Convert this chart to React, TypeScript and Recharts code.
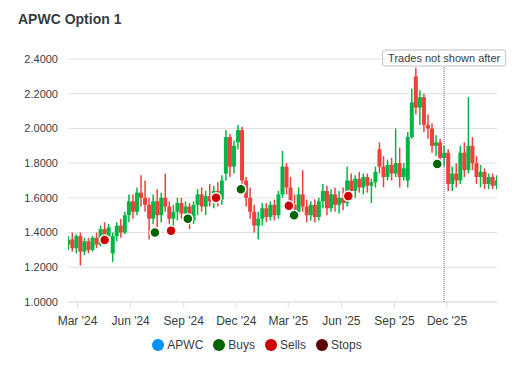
import React from "react";
import { ComposedChart, Bar, Scatter, XAxis, YAxis, CartesianGrid, ReferenceLine } from "recharts";

// weekly candles, first week starting here
const firstWeek = "2024-02-14";

const opens = [
  1.33, 1.36, 1.31, 1.38, 1.29, 1.35, 1.30, 1.37, 1.33, 1.42, 1.38, 1.28, 1.38, 1.44, 1.40, 1.50, 1.58, 1.52, 1.63, 1.60,
  1.56, 1.48, 1.58, 1.50, 1.60, 1.55, 1.48, 1.52, 1.57, 1.51, 1.55, 1.47, 1.56, 1.62, 1.55, 1.61, 1.58, 1.64, 1.59, 1.74,
  1.95, 1.78, 1.92, 1.99, 1.70, 1.60, 1.52, 1.44, 1.48, 1.54, 1.49, 1.56, 1.50, 1.62, 1.78, 1.66, 1.56, 1.52, 1.62, 1.55,
  1.50, 1.56, 1.49, 1.58, 1.64, 1.54, 1.62, 1.56, 1.60, 1.57, 1.70, 1.64, 1.71, 1.66, 1.72, 1.67, 1.69, 1.88, 1.78, 1.72,
  1.79, 1.74, 1.80, 1.72, 1.70, 1.95, 2.30, 2.12, 2.18, 2.02, 2.00, 1.90, 1.92, 1.83, 1.86, 1.68, 1.74, 1.70, 1.86, 1.76,
  1.90, 1.80, 1.72, 1.75, 1.68, 1.72, 1.67,
];
const highs = [
  1.38, 1.40, 1.39, 1.40, 1.37, 1.37, 1.38, 1.40, 1.44, 1.46, 1.45, 1.40, 1.46, 1.48, 1.52, 1.62, 1.62, 1.66, 1.73, 1.70,
  1.60, 1.62, 1.65, 1.63, 1.74, 1.58, 1.56, 1.60, 1.60, 1.58, 1.57, 1.58, 1.65, 1.66, 1.64, 1.68, 1.67, 1.69, 1.73, 1.99,
  1.97, 1.93, 2.02, 2.01, 1.72, 1.66, 1.56, 1.52, 1.57, 1.57, 1.58, 1.59, 1.64, 1.87, 1.80, 1.72, 1.62, 1.66, 1.76, 1.59,
  1.58, 1.59, 1.60, 1.68, 1.67, 1.65, 1.66, 1.64, 1.66, 1.78, 1.74, 1.73, 1.75, 1.74, 1.74, 1.71, 1.78, 1.92, 1.84, 1.82,
  1.83, 2.00, 1.89, 1.80, 1.98, 2.23, 2.35, 2.22, 2.20, 2.08, 2.03, 1.96, 1.94, 1.90, 1.88, 1.78, 1.80, 1.90, 1.92, 2.18,
  1.95, 1.84, 1.79, 1.77, 1.74, 1.74, 1.73,
];
const lows = [
  1.30, 1.29, 1.28, 1.21, 1.27, 1.28, 1.29, 1.31, 1.32, 1.35, 1.34, 1.23, 1.35, 1.37, 1.39, 1.46, 1.48, 1.50, 1.55, 1.52,
  1.36, 1.45, 1.43, 1.46, 1.52, 1.45, 1.43, 1.47, 1.48, 1.46, 1.42, 1.45, 1.50, 1.52, 1.50, 1.55, 1.54, 1.55, 1.56, 1.70,
  1.72, 1.74, 1.88, 1.65, 1.55, 1.48, 1.40, 1.36, 1.44, 1.46, 1.47, 1.47, 1.48, 1.60, 1.62, 1.52, 1.48, 1.50, 1.52, 1.46,
  1.47, 1.46, 1.47, 1.54, 1.50, 1.52, 1.52, 1.51, 1.53, 1.55, 1.60, 1.60, 1.63, 1.62, 1.63, 1.57, 1.66, 1.74, 1.66, 1.70,
  1.70, 1.72, 1.66, 1.70, 1.66, 1.94, 2.08, 2.02, 1.98, 1.94, 1.86, 1.84, 1.79, 1.78, 1.64, 1.64, 1.66, 1.68, 1.72, 1.74,
  1.76, 1.68, 1.66, 1.65, 1.65, 1.65, 1.65,
];
const closes = [
  1.36, 1.31, 1.38, 1.29, 1.35, 1.30, 1.37, 1.33, 1.42, 1.38, 1.43, 1.38, 1.44, 1.40, 1.50, 1.58, 1.52, 1.63, 1.60, 1.56,
  1.48, 1.58, 1.50, 1.60, 1.55, 1.48, 1.52, 1.57, 1.51, 1.55, 1.47, 1.56, 1.62, 1.55, 1.61, 1.58, 1.64, 1.59, 1.70, 1.95,
  1.78, 1.90, 1.99, 1.70, 1.60, 1.52, 1.44, 1.48, 1.54, 1.49, 1.56, 1.50, 1.62, 1.78, 1.66, 1.56, 1.52, 1.62, 1.55, 1.50,
  1.56, 1.49, 1.58, 1.64, 1.54, 1.62, 1.56, 1.60, 1.57, 1.70, 1.64, 1.71, 1.66, 1.72, 1.67, 1.69, 1.75, 1.78, 1.72, 1.79,
  1.74, 1.80, 1.72, 1.77, 1.95, 2.15, 2.12, 2.18, 2.02, 2.00, 1.90, 1.92, 1.83, 1.86, 1.68, 1.74, 1.70, 1.86, 1.76, 1.90,
  1.80, 1.72, 1.75, 1.68, 1.72, 1.67, 1.70,
];

const buyDates = ["2024-07-13", "2024-09-08", "2024-12-09", "2025-03-11", "2025-11-14"];
const buyPrices = [1.40, 1.48, 1.65, 1.50, 1.795];
const sellDates = ["2024-04-17", "2024-08-10", "2024-10-27", "2025-03-02", "2025-06-13"];
const sellPrices = [1.357, 1.41, 1.60, 1.555, 1.61];

const cutoffDate = "2025-11-26";
const xTickDates = ["2024-03-01", "2024-06-01", "2024-09-01", "2024-12-01", "2025-03-01", "2025-06-01", "2025-09-01", "2025-12-01"];
const yTicks = [1.0, 1.2, 1.4, 1.6, 1.8, 2.0, 2.2, 2.4];

const UP = "#00B746";
const DOWN = "#EF403C";
const TEXT = "#373d3f";
const FONT = "'Liberation Sans', Arial, sans-serif";
const MONTHS = ["Jan", "Feb", "Mar", "Apr", "May", "Jun", "Jul", "Aug", "Sep", "Oct", "Nov", "Dec"];
const BODY_W = 4;

const DAY = 24 * 3600 * 1000;
const toT = (s: string) => Date.parse(s + "T00:00:00Z");

const candles = opens.map((open, i) => ({
  t: toT(firstWeek) + i * 7 * DAY,
  open,
  high: highs[i],
  low: lows[i],
  close: closes[i],
}));

const buys = buyDates.map((d, i) => ({ t: toT(d), price: buyPrices[i] }));
const sells = sellDates.map((d, i) => ({ t: toT(d), price: sellPrices[i] }));

const xDomain = [Date.UTC(2024, 1, 13, 12), Date.UTC(2026, 1, 25, 12)];

const formatMonth = (t: number) => {
  const d = new Date(t);
  return `${MONTHS[d.getUTCMonth()]} '${String(d.getUTCFullYear()).slice(2)}`;
};

// range bar [low, high] -> wick + body, body placed on the same pixel scale
const Candle = (props: any) => {
  const { x, y, width, height, payload } = props;
  if (!payload || x == null) return null;
  const { open, close, high, low } = payload;
  const top = Math.min(y, y + height);
  const h = Math.abs(height);
  const ratio = high - low > 0 ? h / (high - low) : 0;
  const bodyTop = top + (high - Math.max(open, close)) * ratio;
  const bodyH = Math.max(1, Math.abs(open - close) * ratio);
  const color = close >= open ? UP : DOWN;
  const cx = x + width / 2;
  return (
    <g>
      <line x1={cx} x2={cx} y1={top} y2={top + h} stroke={color} strokeWidth={1.5} />
      <rect x={cx - BODY_W / 2} y={bodyTop} width={BODY_W} height={bodyH} fill={color} />
    </g>
  );
};

const marker = (color: string) => (props: any) =>
  <circle cx={props.cx} cy={props.cy} r={5} fill={color} stroke="#fff" strokeWidth={1.5} />;

const CutoffLabel = (props: any) => {
  const vb = props.viewBox || {};
  const w = 123;
  return (
    <g>
      <rect x={vb.x - w / 2} y={vb.y - 9} width={w} height={16} rx={2} fill="#fff" stroke="#c2c2c2" />
      <text x={vb.x} y={vb.y + 3} textAnchor="middle" fontSize={11} fill={TEXT}>
        Trades not shown after
      </text>
    </g>
  );
};

const legendItems = [
  { name: "APWC", color: "#008FFB" },
  { name: "Buys", color: "#006400" },
  { name: "Sells", color: "#CC0000" },
  { name: "Stops", color: "#5C0000" },
];

export default function App() {
  return (
    <div style={{ position: "absolute", left: 0, top: 0, width: 530, height: 380, fontFamily: FONT, background: "#fff" }}>
      <div style={{ position: "absolute", left: 18, top: 11, fontSize: 14, fontWeight: "bold", color: TEXT }}>
        APWC Option 1
      </div>
      <ComposedChart
        width={530}
        height={380}
        data={candles}
        margin={{ top: 59, right: 33, bottom: 48, left: 0 }}
        style={{ fontFamily: FONT }}
      >
        <CartesianGrid vertical={false} stroke="#e0e0e0" />
        <XAxis
          dataKey="t"
          type="number"
          domain={xDomain}
          ticks={xTickDates.map(toT)}
          tickFormatter={formatMonth}
          height={30}
          tick={{ fill: TEXT, fontSize: 12 }}
          tickLine={{ stroke: "#e0e0e0" }}
          axisLine={{ stroke: "#e0e0e0" }}
          tickMargin={8}
          allowDataOverflow
        />
        <YAxis
          type="number"
          domain={[1.0, 2.4]}
          ticks={yTicks}
          tickFormatter={(v: number) => v.toFixed(4)}
          width={68}
          axisLine={false}
          tickLine={false}
          tickMargin={4}
          tick={{ fill: TEXT, fontSize: 11 }}
        />
        <Bar
          dataKey={(d: any) => [d.low, d.high]}
          barSize={3}
          shape={<Candle />}
          isAnimationActive={false}
        />
        <ReferenceLine
          x={toT(cutoffDate)}
          stroke="#775DD0"
          strokeDasharray="1 1"
          label={<CutoffLabel />}
        />
        <Scatter data={buys} dataKey="price" shape={marker("#006400")} isAnimationActive={false} />
        <Scatter data={sells} dataKey="price" shape={marker("#CC0000")} isAnimationActive={false} />
      </ComposedChart>
      <div
        style={{
          position: "absolute",
          left: 0,
          top: 338,
          width: 514,
          display: "flex",
          justifyContent: "center",
          fontSize: 12,
          color: TEXT,
        }}
      >
        {legendItems.map((it) => (
          <div key={it.name} style={{ display: "flex", alignItems: "center", margin: "0 5px" }}>
            <span
              style={{ width: 12, height: 12, borderRadius: 6, background: it.color, display: "inline-block", marginRight: 3 }}
            />
            <span>{it.name}</span>
          </div>
        ))}
      </div>
    </div>
  );
}
